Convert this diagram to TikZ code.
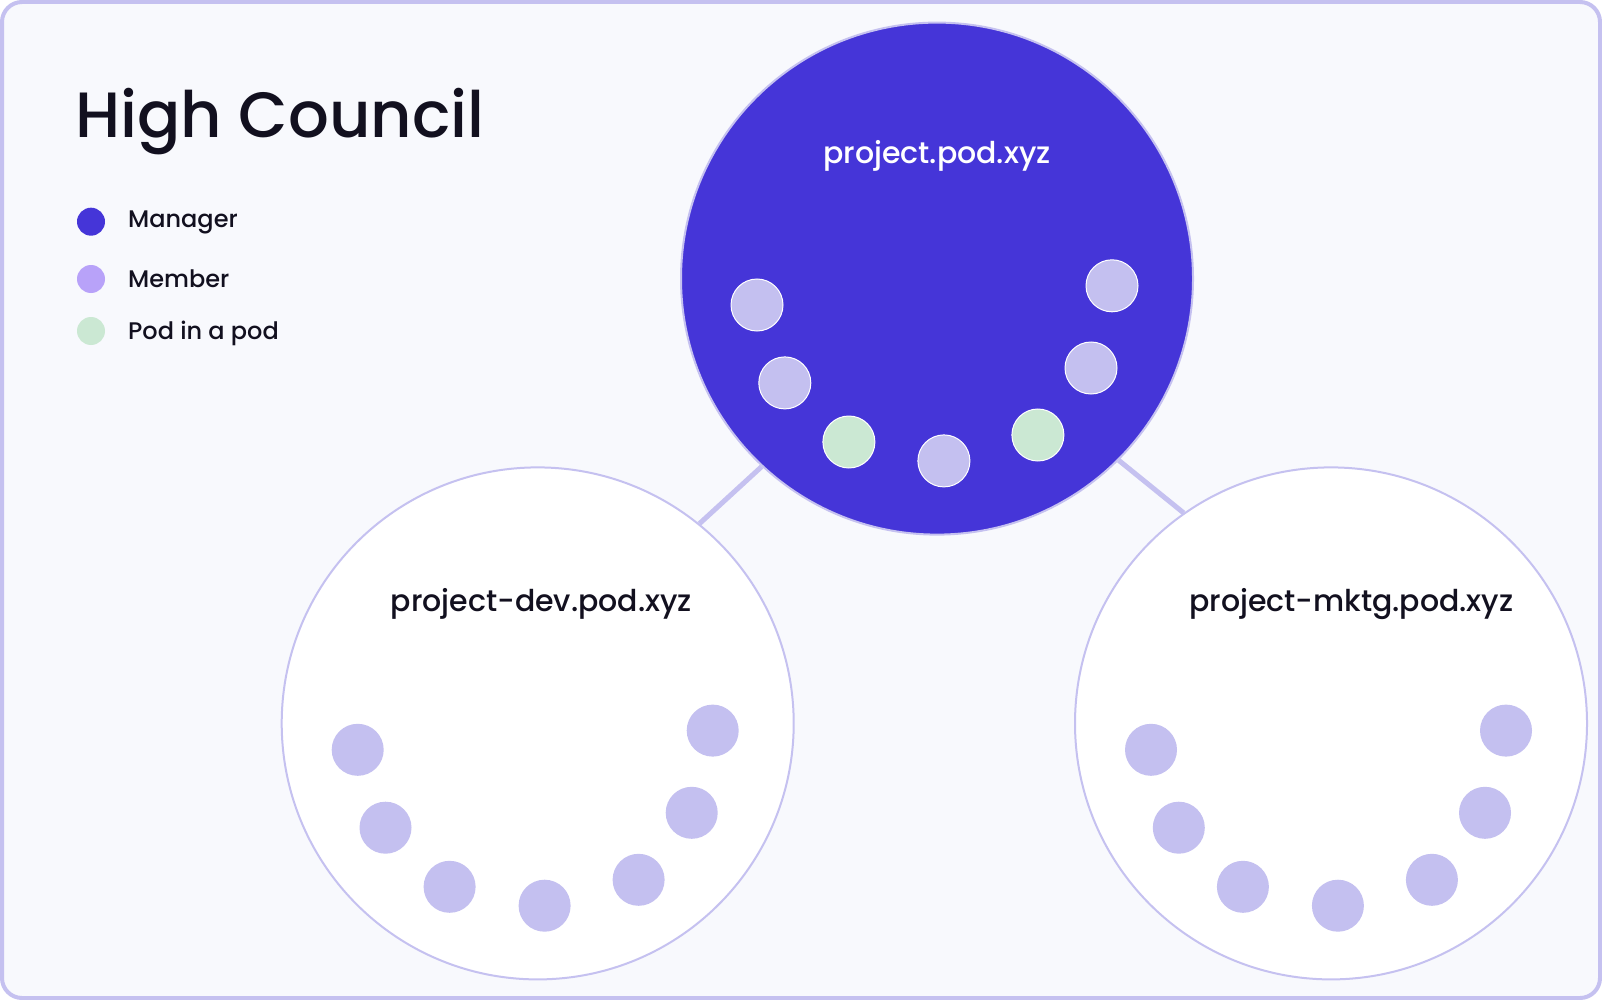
\documentclass[tikz,border=0pt]{standalone}
\usepackage{fontspec}
\IfFontExistsTF{Poppins Medium}{\setmainfont{Poppins Medium}}{\setmainfont{Poppins}}
\usetikzlibrary{calc}
\definecolor{bg}{HTML}{F8F9FD}
\definecolor{frame}{HTML}{C5C1F0}
\definecolor{manager}{HTML}{4535D8}
\definecolor{legendmember}{HTML}{B8A2F9}
\definecolor{member}{HTML}{C4C0F0}
\definecolor{podgreen}{HTML}{CBE8D3}
\definecolor{ink}{HTML}{12101F}
\begin{document}
\begin{tikzpicture}[x=1pt,y=-1pt,
    pod/.style={circle,draw=frame,line width=2pt,fill=white,minimum size=512pt,inner sep=0pt},
    dot/.style={circle,fill=member,minimum size=52pt,inner sep=0pt},
    keydot/.style={circle,minimum size=28pt,inner sep=0pt},
    keytext/.style={anchor=base west,inner sep=0pt,text=ink,font=\fontsize{24}{28}\selectfont},
    podname/.style={anchor=base,inner sep=0pt,text=ink,font=\fontsize{30}{36}\selectfont},
    link/.style={draw=frame,line width=5pt}]
    \useasboundingbox (0,0) rectangle (1602,1000);
    \draw[frame,line width=4pt,fill=bg,rounded corners=20pt] (2,2) rectangle (1600,998);

    \node[anchor=base west,inner sep=0pt,text=ink,font=\fontsize{64}{74}\selectfont] (title) at (75,138) {High Council};

    \node[keydot,fill=manager] (kmanager) at (91,221.7) {};
    \node[keydot,fill=legendmember] (kmember) at (91,279) {};
    \node[keydot,fill=podgreen] (kpod) at (91,331) {};
    \node[keytext] (tmanager) at (128,227.7) {Manager};
    \node[keytext] (tmember) at (128,287.3) {Member};
    \node[keytext] (tpod) at (128,339.3) {Pod in a pod};

    \node[pod,fill=manager] (top) at (937,278.6) {};
    \node[pod] (dev) at (537.7,723.4) {};
    \node[pod] (mktg) at (1331,723.4) {};

    \draw[link] (top.227.5) -- (dev.51.1);
    \draw[link] (top.315.6) -- (mktg.125.7);

    \node[podname,text=white] (toplabel) at ($(top)+(0,-114.6)$) {project.pod.xyz};
    \node[podname] (devlabel) at ($(dev)+(3.8,-111.9)$) {project-dev.pod.xyz};
    \node[podname] (mktglabel) at ($(mktg)+(20.4,-111.9)$) {project-mktg.pod.xyz};

    \foreach \dx/\dy [count=\i] in {-180/26.4,-152.2/104.3,-88.1/163.4,6.9/182.3,100.9/156.4,154/89.4,175/7.2}
    {
        \ifnum\i=3 \def\dotfill{podgreen}\else\ifnum\i=5 \def\dotfill{podgreen}\else\def\dotfill{member}\fi\fi
        \node[dot,fill=\dotfill,draw=white,line width=1pt] (top\i) at ($(top)+(\dx,\dy)$) {};
        \node[dot] (dev\i) at ($(dev)+(\dx,\dy)$) {};
        \node[dot] (mktg\i) at ($(mktg)+(\dx,\dy)$) {};
    }
\end{tikzpicture}
\end{document}
